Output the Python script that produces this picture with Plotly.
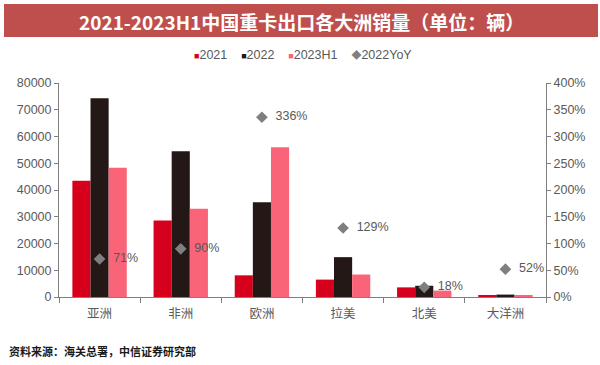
import plotly.graph_objects as go

categories = ["亚洲", "非洲", "欧洲", "拉美", "北美", "大洋洲"]
v2021 = [43500, 28600, 8100, 6500, 3600, 700]
v2022 = [74300, 54500, 35400, 14900, 4200, 900]
v2023h1 = [48300, 33000, 56000, 8400, 2400, 700]
yoy2022 = [0.71, 0.90, 3.36, 1.29, 0.18, 0.52]
yoy_labels = ["71%", "90%", "336%", "129%", "18%", "52%"]

left_ticks = [0, 10000, 20000, 30000, 40000, 50000, 60000, 70000, 80000]
left_labels = [str(v) for v in left_ticks]
right_ticks = [0, 0.5, 1.0, 1.5, 2.0, 2.5, 3.0, 3.5, 4.0]
right_labels = ["0%", "50%", "100%", "150%", "200%", "250%", "300%", "350%", "400%"]

series_names = ["2021", "2022", "2023H1", "2022YoY"]
series_colors = ["#D7001C", "#231815", "#FA6478", "#7F7F7F"]

FONT = "Liberation Sans, Arial, Noto Sans CJK SC, sans-serif"
CJK = "Noto Sans CJK SC, sans-serif"
GREY = "#595959"

fig = go.Figure()
for name, vals, col in zip(series_names[:3], [v2021, v2022, v2023h1], series_colors[:3]):
    fig.add_trace(go.Bar(name=name, x=categories, y=vals, marker_color=col, marker_line_width=0))
fig.add_trace(go.Scatter(
    name=series_names[3], x=categories, y=yoy2022, yaxis="y2", mode="markers+text",
    marker=dict(symbol="diamond", size=9, color=series_colors[3]),
    text=["  " + t for t in yoy_labels], textposition="middle right",
    textfont=dict(size=12.5, color=GREY, family=FONT),
))

# legend built as a compact text row (symbols + names)
legend_parts = []
for i, (name, col) in enumerate(zip(series_names, series_colors)):
    sym = "◆" if i == 3 else "■"
    size = 10 if i == 3 else 9
    legend_parts.append(f"<span style='color:{col};font-size:{size}px'>{sym}</span>{name}")
legend_text = "\u00a0\u00a0\u00a0\u00a0".join(legend_parts)

fig.update_layout(
    width=600, height=365,
    margin=dict(l=59, r=54, t=83, b=68, autoexpand=False),
    paper_bgcolor="white", plot_bgcolor="white",
    barmode="group", bargap=0.33, bargroupgap=0,
    font=dict(family=FONT, size=12, color=GREY),
    showlegend=False,
    xaxis=dict(type="category", showline=True, linecolor="#7F7F7F", linewidth=1,
               ticks="outside", tickson="boundaries", ticklen=5, tickcolor="#7F7F7F",
               ticklabelstandoff=5,
               tickfont=dict(family=CJK, size=12.5, color=GREY), showgrid=False, automargin=False),
    yaxis=dict(range=[0, 80000], tickvals=left_ticks, ticktext=left_labels, showline=True,
               linecolor="#7F7F7F", ticks="outside", ticklen=4, tickcolor="#7F7F7F",
               showgrid=False, tickfont=dict(size=12.5, color=GREY), zeroline=False,
               automargin=False),
    yaxis2=dict(range=[0, 4.0], tickvals=right_ticks, ticktext=right_labels, overlaying="y",
                side="right", showline=True, linecolor="#7F7F7F", ticks="outside", ticklen=4,
                tickcolor="#7F7F7F", showgrid=False, zeroline=False, automargin=False,
                tickfont=dict(size=12.5, color=GREY)),
    shapes=[dict(type="rect", xref="paper", yref="paper",
                 x0=(4 - 59) / 487, x1=(598 - 59) / 487,
                 y0=(297 - 37) / 214, y1=(297 - 4) / 214,
                 fillcolor="#BF4F4D", line_width=0, layer="below")],
    annotations=[
        dict(text="<b>2021-2023H1中国重卡出口各大洲销量（单位：辆）</b>", xref="paper", yref="paper",
             x=(301 - 59) / 487, y=(297 - 21) / 214, xanchor="center", yanchor="middle",
             showarrow=False, font=dict(family=CJK, size=19, color="white")),
        dict(text=legend_text, xref="paper", yref="paper",
             x=(303 - 59) / 487, y=(297 - 55) / 214, xanchor="center", yanchor="middle",
             showarrow=False, font=dict(family=FONT, size=12.5, color=GREY)),
        dict(text="<b>资料来源：海关总署，中信证券研究部</b>", xref="paper", yref="paper",
             x=(7 - 59) / 487, y=(297 - 351) / 214, xanchor="left", yanchor="middle",
             showarrow=False, font=dict(family=CJK, size=11, color="#1A1A1A")),
    ],
)

fig.write_html("out.html", config={"displayModeBar": False},
               post_script="document.body.style.margin='0';document.body.style.overflow='hidden';")
